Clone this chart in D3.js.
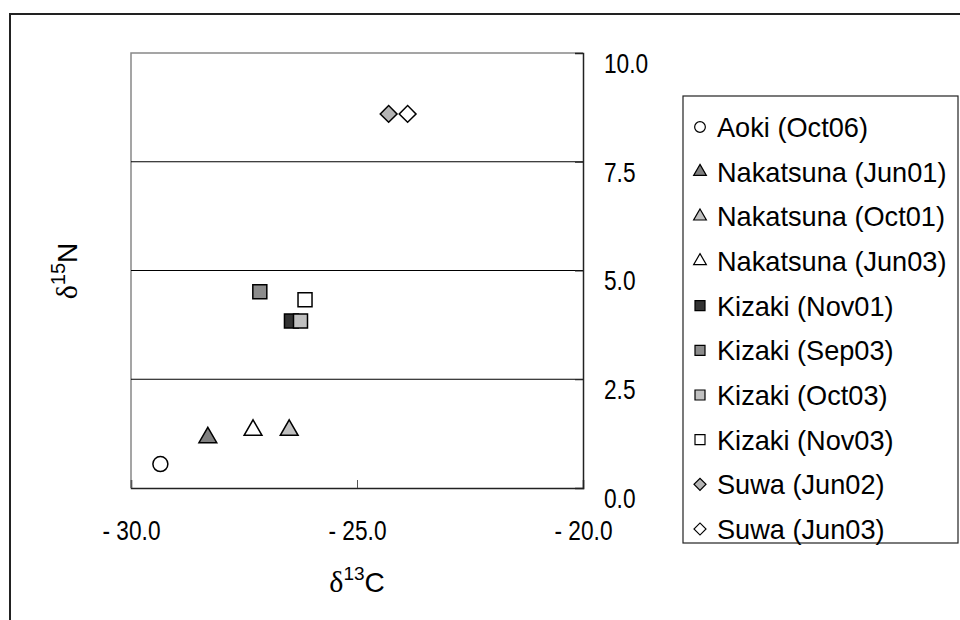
<!DOCTYPE html>
<html>
<head>
<meta charset="utf-8">
<script src="https://cdn.jsdelivr.net/npm/d3@7/dist/d3.min.js"></script>
<style>
body { margin: 0; background: #fff; }
</style>
</head>
<body>
<div id="chart"></div>
<script>
// series, in legend order
var seriesNames = ["Aoki (Oct06)", "Nakatsuna (Jun01)", "Nakatsuna (Oct01)", "Nakatsuna (Jun03)",
    "Kizaki (Nov01)", "Kizaki (Sep03)", "Kizaki (Oct03)", "Kizaki (Nov03)",
    "Suwa (Jun02)", "Suwa (Jun03)"];
var d13C = [-29.35, -28.3, -26.5, -27.3, -26.45, -27.15, -26.25, -26.15, -24.3, -23.88];
var d15N = [0.55, 1.16, 1.33, 1.33, 3.84, 4.51, 3.84, 4.33, 8.6, 8.6];
var xTicks = [-30, -25, -20];
var yTicks = [0, 2.5, 5, 7.5, 10];

// marker looks
var shapes = ["circle", "triangle", "triangle", "triangle", "square", "square", "square", "square", "diamond", "diamond"];
var fills = ["#fff", "#808080", "#c0c0c0", "#fff", "#333", "#8c8c8c", "#c0c0c0", "#fff", "#b4b4b4", "#fff"];

var width = 960, height = 620;
var svg = d3.select("#chart").append("svg")
    .attr("width", width)
    .attr("height", height);

// outer chart border
svg.append("rect")
    .attr("x", 10).attr("y", 14)
    .attr("width", 1000).attr("height", 700)
    .attr("fill", "none").attr("stroke", "#222").attr("stroke-width", 2);

var x = d3.scaleLinear().domain([-30, -20]).range([131, 583]);
var y = d3.scaleLinear().domain([0, 10]).range([488, 53]);

var sansFont = "'Liberation Sans', Arial, sans-serif";

// no narrow font here, so squeeze the glyphs instead
var squeeze = function (sel, k) {
    sel.each(function () {
        var w = this.getComputedTextLength();
        d3.select(this).attr("textLength", w * k).attr("lengthAdjust", "spacingAndGlyphs");
    });
};

// plot area frame (top/left gray)
svg.append("path")
    .attr("d", "M" + x(-30) + "," + y(0) + "V" + y(10) + "H" + x(-20))
    .attr("fill", "none").attr("stroke", "#888").attr("stroke-width", 1.5);

// gridlines
svg.append("g").selectAll("line")
    .data(yTicks.slice(1, -1))
    .enter().append("line")
    .attr("x1", x(-30)).attr("x2", x(-20))
    .attr("y1", function (d) { return y(d); })
    .attr("y2", function (d) { return y(d); })
    .attr("stroke", "#000").attr("stroke-width", 1);

// x axis
var xAxis = svg.append("g")
    .attr("transform", "translate(0," + y(0) + ")")
    .call(d3.axisBottom(x).tickValues(xTicks).tickSize(-8).tickPadding(33)
        .tickFormat(function (d) { return "- " + Math.abs(d).toFixed(1); }));
xAxis.select(".domain").attr("stroke", "#222").attr("stroke-width", 1.5);
xAxis.selectAll(".tick line").attr("stroke", "#555");
xAxis.selectAll("text").attr("font-family", sansFont).attr("font-size", 27).attr("fill", "#000");
squeeze(xAxis.selectAll("text"), 0.84);

// y axis on the right
var yAxis = svg.append("g")
    .attr("transform", "translate(" + x(-20) + ",0)")
    .call(d3.axisRight(y).tickValues(yTicks).tickSize(-8).tickPadding(21)
        .tickFormat(d3.format(".1f")));
yAxis.select(".domain").attr("stroke", "#222").attr("stroke-width", 1.5);
yAxis.selectAll(".tick line").attr("stroke", "#222");
yAxis.selectAll("text").attr("font-family", sansFont).attr("font-size", 27)
    .attr("fill", "#000").attr("dy", "0.72em");
squeeze(yAxis.selectAll("text"), 0.84);

// marker builder
var symbolFor = function (shape, s) {
    if (shape == "circle") return d3.symbol().type(d3.symbolCircle).size(s * 0.9)();
    if (shape == "triangle") return d3.symbol().type(d3.symbolTriangle).size(s * 0.7)();
    if (shape == "diamond") return d3.symbol().type(d3.symbolSquare).size(s * 0.72)();
    return d3.symbol().type(d3.symbolSquare).size(s)();
};

// points
var idx = d3.range(seriesNames.length);
svg.append("g").selectAll("path")
    .data(idx)
    .enter().append("path")
    .attr("d", function (i) { return symbolFor(shapes[i], 196); })
    .attr("transform", function (i) {
        return "translate(" + x(d13C[i]) + "," + y(d15N[i]) + ")" + (shapes[i] == "diamond" ? " rotate(45)" : "");
    })
    .attr("fill", function (i) { return fills[i]; })
    .attr("stroke", "#000").attr("stroke-width", 1.5);

// legend
var legend = svg.append("g");
legend.append("rect")
    .attr("x", 683).attr("y", 96)
    .attr("width", 275).attr("height", 447)
    .attr("fill", "#fff").attr("stroke", "#222").attr("stroke-width", 1.2);

var rowY = d3.scaleLinear().domain([0, 9]).range([127, 529]);
var rows = legend.selectAll("g.row")
    .data(idx)
    .enter().append("g")
    .attr("class", "row")
    .attr("transform", function (i) { return "translate(0," + rowY(i) + ")"; });
rows.append("path")
    .attr("d", function (i) { return symbolFor(shapes[i], 100); })
    .attr("transform", function (i) { return "translate(700,0)" + (shapes[i] == "diamond" ? " rotate(45)" : ""); })
    .attr("fill", function (i) { return fills[i]; })
    .attr("stroke", "#000").attr("stroke-width", 1.2);
rows.append("text")
    .attr("x", 717).attr("dy", "0.36em")
    .attr("font-family", sansFont)
    .attr("font-size", 28)
    .text(function (i) { return seriesNames[i]; });
squeeze(rows.selectAll("text"), 0.97);

// axis titles
var xTitle = svg.append("text")
    .attr("transform", "translate(357,592)")
    .attr("text-anchor", "middle")
    .attr("font-size", 30);
xTitle.append("tspan").attr("font-family", "'Liberation Serif', serif").text("δ");
xTitle.append("tspan").attr("font-family", sansFont).attr("font-size", 19).attr("dy", -12).text("13");
xTitle.append("tspan").attr("font-family", sansFont).attr("font-size", 28).attr("dy", 12).text("C");

var yTitle = svg.append("text")
    .attr("transform", "translate(77,271) rotate(-90)")
    .attr("text-anchor", "middle")
    .attr("font-size", 30);
yTitle.append("tspan").attr("font-family", "'Liberation Serif', serif").text("δ");
yTitle.append("tspan").attr("font-family", sansFont).attr("font-size", 20).attr("dy", -12).text("15");
yTitle.append("tspan").attr("font-family", sansFont).attr("font-size", 28).attr("dy", 12).text("N");
</script>
</body>
</html>
